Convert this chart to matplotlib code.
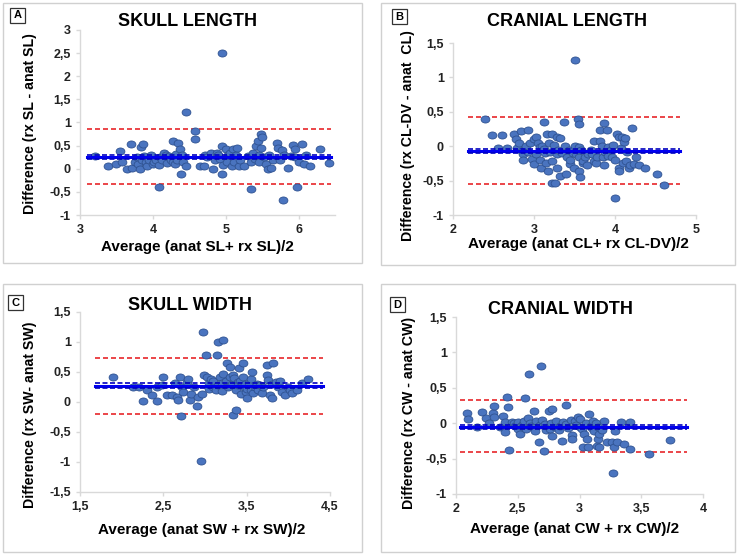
import matplotlib
matplotlib.use('Agg')
import matplotlib.pyplot as plt
from matplotlib.patches import Rectangle
from matplotlib.path import Path
from matplotlib.ticker import FuncFormatter

plt.rcParams['font.family'] = ['Liberation Sans', 'DejaVu Sans']

# panel A - skull length
sl_avg = [3.20, 3.38, 3.50, 3.55, 3.58, 3.65, 3.70, 3.72, 3.75, 3.78, 3.80, 3.82, 3.84, 3.85, 3.86,
          3.88, 3.90, 3.92, 3.95, 3.97, 4.00, 4.02, 4.05, 4.08, 4.08, 4.10, 4.12, 4.15, 4.18, 4.20,
          4.22, 4.25, 4.27, 4.28, 4.30, 4.32, 4.33, 4.35, 4.37, 4.38, 4.40, 4.42, 4.45, 4.45, 4.58,
          4.58, 4.65, 4.70, 4.72, 4.75, 4.80, 4.82, 4.85, 4.88, 4.90, 4.92, 4.95, 4.95, 4.95, 4.96,
          5.00, 5.02, 5.03, 5.06, 5.08, 5.10, 5.12, 5.14, 5.16, 5.18, 5.20, 5.25, 5.30, 5.35, 5.35,
          5.38, 5.40, 5.42, 5.44, 5.45, 5.46, 5.48, 5.48, 5.50, 5.52, 5.55, 5.58, 5.60, 5.62, 5.65,
          5.70, 5.72, 5.75, 5.77, 5.78, 5.80, 5.85, 5.90, 5.93, 5.95, 5.95, 5.98, 6.00, 6.05, 6.07,
          6.10, 6.15, 6.30, 6.42]
sl_diff = [0.28, 0.05, 0.10, 0.38, 0.15, 0.00, 0.53, 0.02, 0.15, 0.25, 0.10, 0.00, 0.47, 0.20, 0.53,
           0.28, 0.15, 0.05, 0.20, 0.30, 0.10, 0.15, 0.20, 0.08, -0.40, 0.25, 0.20, 0.35, 0.30, 0.12,
           0.28, 0.20, 0.60, 0.15, 0.10, 0.32, 0.20, 0.55, 0.42, -0.12, 0.30, 0.15, 0.05, 1.22, 0.82,
           0.65, 0.05, 0.05, 0.30, 0.25, 0.35, 0.00, 0.20, 0.33, 0.30, 0.22, 0.50, 2.50, -0.12, 0.08,
           0.42, 0.15, 0.30, 0.35, 0.05, 0.42, 0.15, 0.30, 0.45, 0.05, 0.20, 0.05, 0.28, 0.15, -0.43,
           0.35, 0.22, 0.50, 0.60, 0.30, 0.15, 0.75, 0.45, 0.68, 0.25, 0.10, 0.00, 0.30, 0.02, 0.18,
           0.55, 0.45, 0.20, 0.40, -0.67, 0.30, 0.02, 0.28, 0.52, 0.42, 0.25, -0.40, 0.15, 0.53, 0.10,
           0.30, 0.05, 0.43, 0.12]

# panel B - cranial length
cl_avg = [2.39, 2.48, 2.56, 2.61, 2.67, 2.75, 2.78, 2.79, 2.82, 2.84, 2.85, 2.87, 2.87, 2.90, 2.92,
          2.93, 2.95, 2.97, 3.00, 3.00, 3.02, 3.03, 3.05, 3.07, 3.08, 3.09, 3.10, 3.12, 3.12, 3.13,
          3.15, 3.16, 3.17, 3.18, 3.20, 3.22, 3.22, 3.22, 3.25, 3.26, 3.28, 3.28, 3.29, 3.30, 3.32,
          3.32, 3.35, 3.37, 3.38, 3.40, 3.41, 3.43, 3.45, 3.45, 3.48, 3.49, 3.50, 3.51, 3.52, 3.54,
          3.55, 3.55, 3.55, 3.56, 3.57, 3.58, 3.60, 3.61, 3.63, 3.65, 3.67, 3.70, 3.72, 3.74, 3.74,
          3.76, 3.78, 3.81, 3.82, 3.84, 3.85, 3.86, 3.86, 3.88, 3.90, 3.91, 3.91, 3.95, 3.96, 3.98,
          4.00, 4.00, 4.02, 4.05, 4.05, 4.05, 4.08, 4.09, 4.10, 4.11, 4.12, 4.13, 4.15, 4.17, 4.18,
          4.21, 4.23, 4.26, 4.30, 4.37, 4.52, 4.61]
cl_diff = [0.40, 0.17, -0.03, 0.17, -0.02, 0.18, 0.11, -0.02, 0.05, 0.22, -0.07, -0.12, -0.20, 0.00, -0.08,
           0.23, 0.05, -0.18, -0.26, 0.10, 0.13, -0.12, 0.05, -0.01, -0.20, -0.31, 0.00, 0.35, -0.04, -0.10,
           -0.25, 0.18, -0.36, 0.05, -0.08, 0.18, -0.54, -0.22, 0.02, -0.53, -0.31, -0.12, 0.13, -0.05, 0.12,
           -0.44, -0.10, 0.35, 0.00, -0.40, -0.15, -0.05, -0.26, -0.20, -0.10, -0.31, 0.00, 1.26, -0.12, 0.39,
           0.32, -0.01, -0.16, -0.36, -0.45, -0.05, -0.25, -0.21, -0.15, -0.28, -0.11, -0.05, -0.12, 0.08, -0.21,
           -0.25, -0.16, 0.08, 0.23, 0.01, -0.15, 0.33, -0.28, -0.08, 0.23, -0.01, -0.14, -0.05, -0.16, 0.02,
           -0.75, -0.20, 0.18, 0.13, -0.31, -0.36, -0.02, 0.13, -0.25, 0.06, 0.12, -0.21, -0.09, -0.31, -0.28,
           0.27, -0.26, -0.16, -0.27, -0.31, -0.40, -0.56]

# panel C - skull width
sw_avg = [1.90, 2.14, 2.21, 2.26, 2.30, 2.36, 2.42, 2.42, 2.48, 2.50, 2.54, 2.60, 2.64, 2.66, 2.68,
          2.70, 2.71, 2.72, 2.74, 2.78, 2.80, 2.82, 2.83, 2.87, 2.90, 2.91, 2.95, 2.96, 2.98, 2.99,
          3.01, 3.03, 3.05, 3.05, 3.07, 3.09, 3.10, 3.13, 3.14, 3.15, 3.16, 3.18, 3.20, 3.20, 3.22,
          3.22, 3.25, 3.26, 3.28, 3.30, 3.30, 3.32, 3.34, 3.34, 3.35, 3.37, 3.37, 3.39, 3.40, 3.41,
          3.42, 3.43, 3.45, 3.45, 3.47, 3.48, 3.49, 3.50, 3.51, 3.53, 3.55, 3.55, 3.57, 3.58, 3.60,
          3.62, 3.64, 3.66, 3.68, 3.70, 3.74, 3.74, 3.76, 3.78, 3.80, 3.80, 3.82, 3.85, 3.88, 3.90,
          3.92, 3.96, 3.99, 4.02, 4.05, 4.10, 4.16, 4.24]
sw_diff = [0.42, 0.25, 0.25, 0.01, 0.20, 0.11, 0.02, 0.25, 0.28, 0.42, 0.11, 0.11, 0.31, 0.08, 0.03,
           0.42, -0.24, 0.25, 0.17, 0.34, 0.39, 0.04, 0.14, 0.25, -0.06, 0.08, -0.98, 0.14, 1.17, 0.45,
           0.78, 0.42, 0.31, 0.22, 0.39, 0.25, 0.35, 0.20, 0.78, 0.28, 1.00, 0.42, 0.31, 0.18, 1.03,
           0.47, 0.35, 0.65, 0.25, 0.42, 0.59, 0.30, 0.45, -0.22, 0.40, -0.13, 0.20, 0.34, 0.28, 0.56,
           0.35, 0.14, 0.65, 0.42, 0.25, 0.30, 0.17, 0.22, 0.06, 0.31, 0.20, 0.38, 0.50, 0.15, 0.25,
           0.30, 0.20, 0.28, 0.15, 0.25, 0.61, 0.45, 0.36, 0.11, 0.06, 0.30, 0.65, 0.34, 0.25, 0.35,
           0.17, 0.11, 0.25, 0.20, 0.15, 0.20, 0.31, 0.39]

# panel D - cranial width
cw_avg = [2.09, 2.10, 2.17, 2.21, 2.24, 2.27, 2.30, 2.31, 2.31, 2.36, 2.38, 2.40, 2.40, 2.41, 2.42,
          2.43, 2.45, 2.47, 2.48, 2.50, 2.50, 2.52, 2.53, 2.54, 2.55, 2.56, 2.57, 2.58, 2.59, 2.60,
          2.61, 2.62, 2.63, 2.64, 2.65, 2.67, 2.68, 2.69, 2.70, 2.71, 2.72, 2.73, 2.75, 2.76, 2.77,
          2.78, 2.78, 2.80, 2.81, 2.83, 2.84, 2.86, 2.87, 2.89, 2.89, 2.91, 2.93, 2.94, 2.94, 2.96,
          2.97, 2.99, 3.00, 3.00, 3.02, 3.03, 3.04, 3.05, 3.06, 3.07, 3.08, 3.09, 3.10, 3.11, 3.12,
          3.13, 3.14, 3.15, 3.15, 3.16, 3.16, 3.18, 3.20, 3.22, 3.26, 3.27, 3.28, 3.29, 3.30, 3.34,
          3.36, 3.41, 3.41, 3.56, 3.73]
cw_diff = [0.14, 0.06, -0.05, 0.16, 0.07, 0.00, 0.14, 0.24, 0.09, -0.05, 0.10, 0.02, -0.12, 0.37, 0.23,
           -0.38, 0.02, 0.00, -0.04, -0.08, 0.01, -0.15, -0.04, -0.01, 0.03, 0.35, -0.08, 0.08, 0.70, 0.00,
           -0.04, -0.06, 0.17, -0.11, 0.03, -0.26, -0.02, 0.81, 0.05, -0.39, -0.01, -0.10, 0.17, -0.08, 0.00,
           0.20, -0.18, -0.05, 0.03, -0.10, -0.04, -0.25, 0.02, 0.26, -0.01, -0.07, 0.05, -0.16, -0.23, 0.03,
           -0.03, 0.09, -0.06, 0.06, -0.08, -0.34, -0.15, 0.00, -0.23, -0.34, 0.13, -0.04, -0.07, 0.03, -0.11,
           0.00, -0.32, -0.23, -0.05, -0.33, -0.15, -0.10, 0.03, -0.27, -0.27, -0.71, -0.34, -0.11, -0.27, 0.02,
           -0.30, -0.37, 0.01, -0.43, -0.24]

# bias line, its confidence band and limits of agreement per panel
mean_bias = [0.26, -0.07, 0.27, -0.05]
bias_ci_hi = [0.30, -0.04, 0.31, -0.025]
bias_ci_lo = [0.22, -0.105, 0.23, -0.075]
loa_hi = [0.87, 0.42, 0.74, 0.325]
loa_lo = [-0.34, -0.55, -0.20, -0.41]

letters = ['A', 'B', 'C', 'D']
titles = ['SKULL LENGTH', 'CRANIAL LENGTH', 'SKULL WIDTH', 'CRANIAL WIDTH']
xlabels = ['Average (anat SL+ rx SL)/2', 'Average (anat CL+ rx CL-DV)/2',
           'Average (anat SW + rx SW)/2', 'Average (anat CW + rx CW)/2']
ylabels = ['Difference (rx SL - anat SL)', 'Difference (rx CL-DV - anat  CL)',
           'Difference (rx SW- anat SW)', 'Difference (rx CW - anat CW)']
xticks = [[3, 4, 5, 6], [2, 3, 4, 5], [1.5, 2.5, 3.5, 4.5], [2, 2.5, 3, 3.5, 4]]
yticks = [[-1, -0.5, 0, 0.5, 1, 1.5, 2, 2.5, 3], [-1, -0.5, 0, 0.5, 1, 1.5],
          [-1.5, -1, -0.5, 0, 0.5, 1, 1.5], [-1, -0.5, 0, 0.5, 1, 1.5]]
xs = [sl_avg, cl_avg, sw_avg, cw_avg]
ys = [sl_diff, cl_diff, sw_diff, cw_diff]

W, H = 739, 554
fig = plt.figure(figsize=(W / 100, H / 100), dpi=100)


def fx(px):
    return px / W


def fy(py):
    return 1 - py / H


# layout in pixels: axes box, x range, line extent, panel frame, letter box, label centres
layout = [
    dict(ax=(80, 30, 335, 215), xlim=(3, 6.5), ylim=(-1, 3), span=(3.1, 6.45),
         frame=(3, 3, 362, 263), box=(10, 8), title=(187, 22), xl=(197, 247), yl=(30, 124)),
    dict(ax=(453, 43, 696, 215), xlim=(2, 5), ylim=(-1, 1.5), span=(2.18, 4.8),
         frame=(381, 3, 735, 265), box=(392, 9), title=(567, 21), xl=(578, 244), yl=(408, 136)),
    dict(ax=(80, 312, 330, 492), xlim=(1.5, 4.5), ylim=(-1.5, 1.5), span=(1.68, 4.42),
         frame=(3, 284, 362, 552), box=(8, 295), title=(190, 305), xl=(202, 530), yl=(30, 415)),
    dict(ax=(456, 317, 703, 494), xlim=(2, 4), ylim=(-1, 1.5), span=(2.03, 3.87),
         frame=(381, 284, 735, 552), box=(390, 297), title=(560, 309), xl=(575, 529), yl=(409, 413)),
]


def comma(v, pos):
    return ('%g' % v).replace('.', ',')


# slightly wide ellipse marker like the original
circle = Path.unit_circle()
oval = Path(circle.vertices * [1.12, 0.9], circle.codes)

grey = '#D9D9D9'
for i, L in enumerate(layout):
    # panel frame
    x0, y0, x1, y1 = L['frame']
    fig.patches.append(Rectangle((fx(x0), fy(y1)), fx(x1 - x0), (y1 - y0) / H,
                                 transform=fig.transFigure, fill=False,
                                 edgecolor='#D0D0D0', linewidth=1.0))
    # letter box
    bx, by = L['box']
    fig.patches.append(Rectangle((fx(bx), fy(by + 15)), fx(15), 15 / H,
                                 transform=fig.transFigure, facecolor='white',
                                 edgecolor='#333333', linewidth=0.9))
    fig.text(fx(bx + 7.5), fy(by + 7.5), letters[i], ha='center', va='center',
             fontsize=8, fontweight='bold')

    a0, b0, a1, b1 = L['ax']
    ax = fig.add_axes([fx(a0), fy(b1), fx(a1 - a0), (b1 - b0) / H])
    ax.set_xlim(*L['xlim'])
    ax.set_ylim(*L['ylim'])
    ax.set_xticks(xticks[i])
    ax.set_yticks(yticks[i])
    ax.xaxis.set_major_formatter(FuncFormatter(comma))
    ax.yaxis.set_major_formatter(FuncFormatter(comma))
    for s in ['top', 'right']:
        ax.spines[s].set_visible(False)
    for s in ['left', 'bottom']:
        ax.spines[s].set_color(grey)
        ax.spines[s].set_linewidth(1.0)
    ax.tick_params(colors=grey, length=3, width=1.0, direction='out', pad=3.5)
    for lab in ax.get_xticklabels() + ax.get_yticklabels():
        lab.set_color('#222222')
        lab.set_fontweight('bold')
        lab.set_fontsize(9)

    # bland-altman lines
    sx = L['span']
    ax.plot(sx, [loa_hi[i]] * 2, color='#E8262A', lw=1.2, ls=(0, (3, 1.8)), zorder=1)
    ax.plot(sx, [loa_lo[i]] * 2, color='#E8262A', lw=1.2, ls=(0, (3, 1.8)), zorder=1)
    ax.plot(sx, [mean_bias[i]] * 2, color='#0000F0', lw=2.2, zorder=3)
    ax.plot(sx, [bias_ci_hi[i]] * 2, color='#0000C0', lw=1.2, ls=(0, (3, 1.5)), zorder=3)
    ax.plot(sx, [bias_ci_lo[i]] * 2, color='#0000C0', lw=1.2, ls=(0, (3, 1.5)), zorder=3)

    ax.scatter(xs[i], ys[i], s=40, marker=oval, facecolor='#4A74BF', edgecolor='#2F5291',
               linewidth=0.6, zorder=2)

    # titles and axis labels
    fig.text(fx(L['title'][0]), fy(L['title'][1]), titles[i], ha='center', va='center',
             fontsize=13, fontweight='bold')
    fig.text(fx(L['xl'][0]), fy(L['xl'][1]), xlabels[i], ha='center', va='center',
             fontsize=11, fontweight='bold')
    fig.text(fx(L['yl'][0]), fy(L['yl'][1]), ylabels[i], ha='center', va='center',
             fontsize=10.2, fontweight='bold', rotation=90)

fig.savefig('out.png', dpi=100)
